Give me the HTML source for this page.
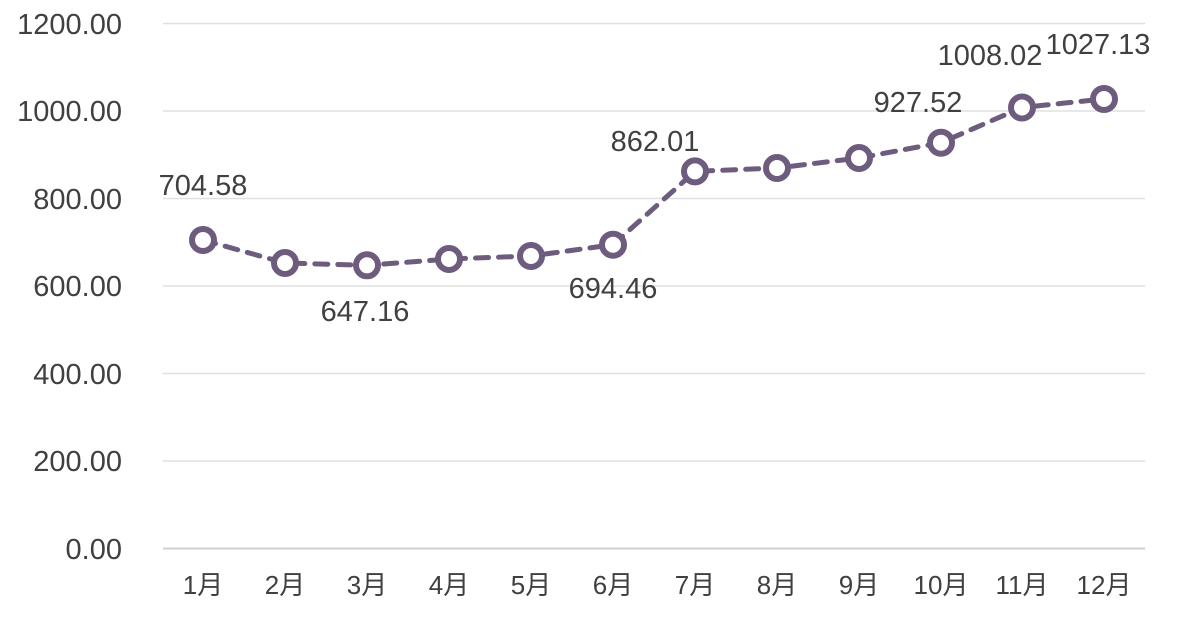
<!DOCTYPE html>
<html><head><meta charset="utf-8"><style>
html,body{margin:0;padding:0;background:#fff;}
svg text{font-family:"Liberation Sans","Noto Sans CJK SC",sans-serif;fill:#404040;}
</style></head><body>
<svg width="1178" height="620" viewBox="0 0 1178 620" xmlns="http://www.w3.org/2000/svg">
<g stroke="#e0e0e0" stroke-width="1.5">
<line x1="163" x2="1145" y1="23.5" y2="23.5"/>
<line x1="163" x2="1145" y1="111" y2="111"/>
<line x1="163" x2="1145" y1="198.5" y2="198.5"/>
<line x1="163" x2="1145" y1="286" y2="286"/>
<line x1="163" x2="1145" y1="373.5" y2="373.5"/>
<line x1="163" x2="1145" y1="461" y2="461"/>
</g>
<line x1="163" x2="1145" y1="548.5" y2="548.5" stroke="#d0d0d0" stroke-width="2"/>
<g font-size="29" text-anchor="end">
<text x="122" y="34">1200.00</text>
<text x="122" y="121">1000.00</text>
<text x="122" y="209">800.00</text>
<text x="122" y="296">600.00</text>
<text x="122" y="384">400.00</text>
<text x="122" y="471">200.00</text>
<text x="122" y="559">0.00</text>
</g>
<g font-size="26" text-anchor="middle">
<text x="203" y="594">1月</text><text x="285" y="594">2月</text><text x="367" y="594">3月</text>
<text x="449" y="594">4月</text><text x="531" y="594">5月</text><text x="613" y="594">6月</text>
<text x="695" y="594">7月</text><text x="777" y="594">8月</text><text x="859" y="594">9月</text>
<text x="941" y="594">10月</text><text x="1022" y="594">11月</text><text x="1104" y="594">12月</text>
</g>
<polyline fill="none" stroke="#6e5c7e" stroke-width="5" stroke-dasharray="13,10" stroke-linecap="round"
points="203,240 285,263 367,265.3 449,259 531,256 613,244.7 695,171.4 777,168 859,158 941,142.7 1022,107.5 1104,99"/>
<g fill="#fff" stroke="#6e5c7e" stroke-width="6">
<circle cx="203" cy="240" r="11"/><circle cx="285" cy="263" r="11"/><circle cx="367" cy="265.3" r="11"/>
<circle cx="449" cy="259" r="11"/><circle cx="531" cy="256" r="11"/><circle cx="613" cy="244.7" r="11"/>
<circle cx="695" cy="171.4" r="11"/><circle cx="777" cy="168" r="11"/><circle cx="859" cy="158" r="11"/>
<circle cx="941" cy="142.7" r="11"/><circle cx="1022" cy="107.5" r="11"/><circle cx="1104" cy="99" r="11"/>
</g>
<g font-size="29" text-anchor="middle">
<text x="203" y="195">704.58</text>
<text x="365" y="321">647.16</text>
<text x="613" y="298">694.46</text>
<text x="655" y="151">862.01</text>
<text x="918" y="112">927.52</text>
<text x="990" y="65">1008.02</text>
<text x="1098" y="54">1027.13</text>
</g>
</svg>
</body></html>
